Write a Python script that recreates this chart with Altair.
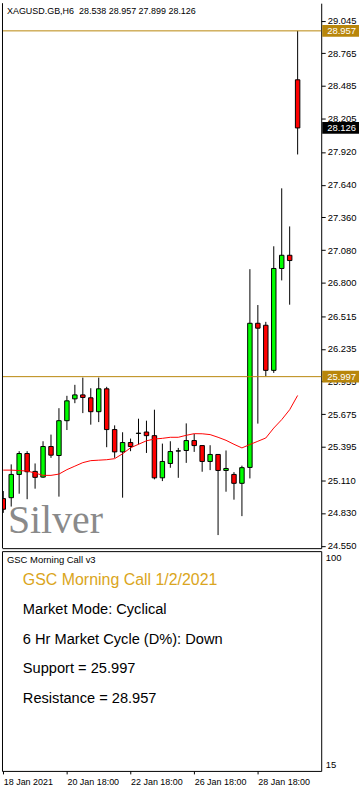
import altair as alt
import pandas as pd

# ---------------- data ----------------
bars = list(range(38))
opens = [24.953, 24.961, 25.160, 25.339, 25.186, 25.137, 25.399, 25.322, 25.620, 25.807,
         25.841, 25.816, 25.697, 25.893, 25.544, 25.353, 25.433, 25.511, 25.523, 25.492,
         25.131, 25.254, 25.360, 25.365, 25.450, 25.407, 25.271, 25.331, 25.194, 25.160,
         25.084, 25.220, 26.454, 26.437, 26.051, 26.923, 27.036, 28.538]
highs = [25.018, 25.246, 25.359, 25.359, 25.254, 25.444, 25.501, 25.727, 25.833, 25.927,
         25.989, 25.898, 25.989, 25.910, 25.580, 25.521, 25.467, 25.637, 25.620, 25.714,
         25.424, 25.444, 25.387, 25.597, 25.506, 25.407, 25.410, 25.331, 25.365, 25.180,
         25.235, 26.917, 26.610, 26.466, 27.113, 27.609, 27.283, 28.957]
lows = [24.831, 24.885, 24.995, 24.948, 25.038, 25.131, 25.302, 24.970, 25.540, 25.770,
        25.685, 25.586, 25.608, 25.393, 25.302, 24.961, 25.359, 25.416, 25.344, 25.118,
        25.103, 25.217, 25.131, 25.259, 25.353, 25.183, 25.197, 24.641, 25.012, 24.944,
        24.803, 25.126, 25.595, 26.000, 26.029, 26.821, 26.613, 27.899]
closes = [24.862, 25.160, 25.339, 25.183, 25.135, 25.399, 25.325, 25.620, 25.790, 25.841,
          25.819, 25.697, 25.893, 25.544, 25.353, 25.433, 25.399, 25.513, 25.492, 25.131,
          25.271, 25.356, 25.362, 25.450, 25.407, 25.271, 25.331, 25.194, 25.211, 25.084,
          25.218, 26.454, 26.412, 26.051, 26.923, 27.036, 26.991, 28.126]
ma_values = [25.197, 25.197, 25.193, 25.189, 25.172, 25.152, 25.152, 25.163, 25.201, 25.231,
             25.261, 25.278, 25.282, 25.286, 25.295, 25.337, 25.388, 25.418, 25.448, 25.463,
             25.469, 25.478, 25.478, 25.495, 25.509, 25.508, 25.501, 25.478, 25.452, 25.418,
             25.387, 25.416, 25.444, 25.472, 25.557, 25.629, 25.714, 25.836]

price_ticks = [24.550, 24.830, 25.110, 25.395, 25.675, 25.955, 26.235, 26.515, 26.800,
               27.080, 27.360, 27.640, 27.920, 28.205, 28.485, 28.765, 29.045]
support = 25.997
resistance = 28.957
time_tick_bars = [0, 8, 16, 24, 32]
time_tick_labels = ["18 Jan 2021", "20 Jan 18:00", "22 Jan 18:00", "26 Jan 18:00", "28 Jan 18:00"]
indicator_ticks = [15, 100]
symbol = "XAGUSD.GB,H6"
instrument_name = "Silver"
panel_name = "GSC Morning Call v3"
call_title = "GSC Morning Call 1/2/2021"
market_mode = "Cyclical"
market_cycle = "Down"

# ---------------- tables ----------------
candles = pd.DataFrame({"bar": bars, "open": opens, "high": highs, "low": lows, "close": closes})
candles["dir"] = ["up" if c > o else "down" for o, c in zip(opens, closes)]
ma_df = pd.DataFrame({"bar": bars, "ma": ma_values})
levels_df = pd.DataFrame({"level": [resistance, support]})
last_df = pd.DataFrame({"level": [closes[-1]]})

FONT = "Liberation Sans"
GOLD = "#B8860B"

x_scale = alt.Scale(domain=[-0.16, 39.965], nice=False, zero=False)
y_scale = alt.Scale(domain=[24.529, 29.194], nice=False, zero=False)
x_axis_main = alt.Axis(labels=False, ticks=False, domain=True, domainColor="black",
                       grid=False, title=None)
y_axis_main = alt.Axis(orient="right", values=price_ticks, format=".3f", grid=False,
                       domain=True, domainColor="black", tickColor="black", tickSize=4,
                       labelPadding=2, labelFontSize=9.5, labelFont=FONT, labelColor="black",
                       labelFlush=False, labelOverlap=False, title=None)


def X(field):
    return alt.X(field, scale=x_scale, axis=x_axis_main, title=None)


def Y(field):
    return alt.Y(field, scale=y_scale, axis=y_axis_main, title=None)


one = alt.Data(values=[{}])

wicks = alt.Chart(candles).mark_rule(color="black", strokeWidth=1, clip=True).encode(
    x=X("bar:Q"), y=Y("low:Q"), y2="high:Q")

body_base = alt.Chart(candles).transform_calculate(
    x0="datum.bar - 0.28", x1="datum.bar + 0.28")
bodies_up = body_base.transform_filter("datum.dir == 'up'").mark_rect(
    fill="#00FF00", stroke="black", strokeWidth=1, clip=True).encode(
    x=X("x0:Q"), x2="x1:Q", y=Y("open:Q"), y2="close:Q")
bodies_down = body_base.transform_filter("datum.dir == 'down'").mark_rect(
    fill="#FF0000", stroke="black", strokeWidth=1, clip=True).encode(
    x=X("x0:Q"), x2="x1:Q", y=Y("open:Q"), y2="close:Q")

ma_line = alt.Chart(ma_df).mark_line(color="#FF0000", strokeWidth=1, clip=True).encode(
    x=X("bar:Q"), y=Y("ma:Q"))

level_lines = alt.Chart(levels_df).mark_rule(color=GOLD, strokeWidth=1).encode(y=Y("level:Q"))

level_boxes = alt.Chart(levels_df).transform_calculate(
    top="datum.level + 0.05", bot="datum.level - 0.05").mark_rect(fill=GOLD).encode(
    x=alt.value(322), x2=alt.value(359), y=Y("top:Q"), y2="bot:Q")
level_texts = alt.Chart(levels_df).mark_text(
    align="left", baseline="middle", color="white", fontSize=9.5, font=FONT).encode(
    x=alt.value(327), y=Y("level:Q"), text=alt.Text("level:Q", format=".3f"))

last_box = alt.Chart(last_df).transform_calculate(
    top="datum.level + 0.05", bot="datum.level - 0.05").mark_rect(fill="black").encode(
    x=alt.value(322), x2=alt.value(359), y=Y("top:Q"), y2="bot:Q")
last_text = alt.Chart(last_df).mark_text(
    align="left", baseline="middle", color="white", fontSize=9.5, font=FONT).encode(
    x=alt.value(327), y=Y("level:Q"), text=alt.Text("level:Q", format=".3f"))

header = f"{symbol}\u00a0\u00a0{opens[-1]:.3f} {highs[-1]:.3f} {lows[-1]:.3f} {closes[-1]:.3f}"
header_text = alt.Chart(one).mark_text(
    align="left", baseline="middle", fontSize=9, font=FONT, color="black").encode(
    x=alt.value(5), y=alt.value(8), text=alt.value(header))

silver_text = alt.Chart(one).mark_text(
    align="left", baseline="alphabetic", fontSize=40, font="Liberation Serif",
    color="#8A8A8A").encode(
    x=alt.value(6), y=alt.value(533), text=alt.value(instrument_name))

left_border = alt.Chart(one).mark_rule(color="black", strokeWidth=1).encode(
    x=alt.value(0.5), y=alt.value(0), y2=alt.value(548))

main = alt.layer(
    wicks, bodies_up, bodies_down, ma_line, level_lines,
    level_boxes, level_texts, last_box, last_text,
    header_text, silver_text, left_border
).properties(width=321, height=548, view=alt.ViewBackground(stroke="transparent"))

# ---------------- lower panel ----------------
label_expr = " : ".join(
    f"datum.value == {b} ? '{t}'" for b, t in zip(time_tick_bars, time_tick_labels)) + " : ''"

x_axis_layer = alt.Chart(pd.DataFrame({"bar": time_tick_bars})).mark_point(opacity=0).encode(
    x=alt.X("bar:Q", scale=x_scale, title=None,
            axis=alt.Axis(values=time_tick_bars, labelExpr=label_expr, ticks=True, tickSize=3,
                          tickColor="black", domain=False, grid=False, labelAlign="left",
                          labelPadding=4, labelFontSize=9, labelFont=FONT, labelColor="black",
                          labelFlush=False, labelOverlap=False, title=None)))

y_axis_layer = alt.Chart(pd.DataFrame({"lvl": indicator_ticks})).mark_point(opacity=0).encode(
    y=alt.Y("lvl:Q", scale=alt.Scale(domain=[12.56, 102.44], nice=False, zero=False), title=None,
            axis=alt.Axis(orient="right", values=indicator_ticks, ticks=False, tickSize=0,
                          domain=False, grid=False, labelPadding=4, labelFontSize=9.5,
                          labelFont=FONT, labelColor="black", labelFlush=False, title=None)))


def label(txt, x, y, size, color="black"):
    return alt.Chart(one).mark_text(
        align="left", baseline="middle", fontSize=size, font=FONT, color=color).encode(
        x=alt.value(x), y=alt.value(y), text=alt.value(txt))


lower = alt.layer(
    x_axis_layer, y_axis_layer,
    label(panel_name, 5, 9, 9.5),
    label(call_title, 21, 29.5, 16, "#DAA520"),
    label(f"Market Mode: {market_mode}", 21, 59, 14.7),
    label(f"6 Hr Market Cycle (D%): {market_cycle}", 21, 89, 14.7),
    label(f"Support = {support:.3f}", 21, 119, 14.7),
    label(f"Resistance = {resistance:.3f}", 21, 149, 14.7),
).properties(width=321, height=221, view=alt.ViewBackground(stroke="black", strokeWidth=1))

chart = alt.vconcat(main, lower, spacing=3, bounds="flush").properties(
    padding=0, background="white")

chart.save("out.html", embed_options={"renderer": "svg", "actions": False})
